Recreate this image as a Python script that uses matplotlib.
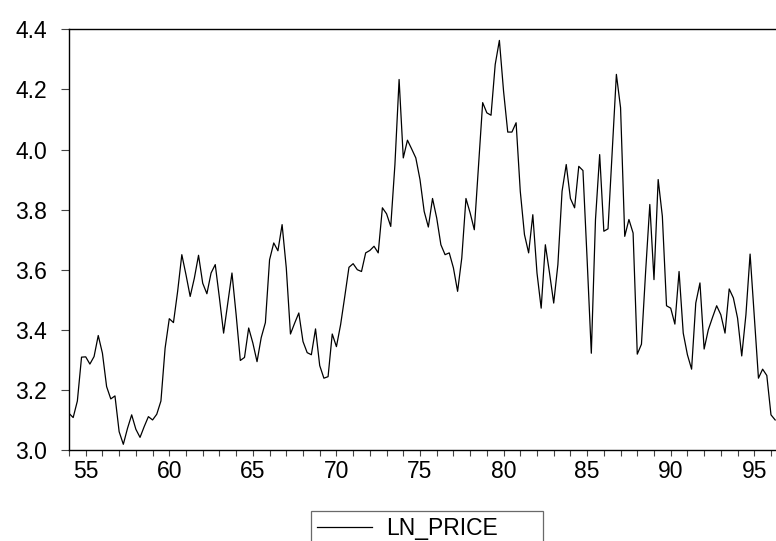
import numpy as np
import matplotlib
matplotlib.use("Agg")
import matplotlib.pyplot as plt
from matplotlib.ticker import MultipleLocator

plt.rcParams['font.family'] = ['Liberation Sans', 'DejaVu Sans']

# quarterly series, 1954Q1 .. 1996Q2
first_year = 54
ln_price = [
    3.122, 3.108, 3.163, 3.309, 3.310, 3.286, 3.311, 3.381, 3.322, 3.211,
    3.170, 3.180, 3.061, 3.019, 3.072, 3.117, 3.069, 3.042, 3.078, 3.111,
    3.100, 3.119, 3.163, 3.339, 3.437, 3.424, 3.528, 3.650, 3.583, 3.511,
    3.572, 3.648, 3.555, 3.520,
    3.589, 3.617, 3.506, 3.389, 3.489, 3.589, 3.450, 3.298, 3.308, 3.406,
    3.356, 3.294, 3.374, 3.424, 3.633, 3.689, 3.663, 3.750, 3.606, 3.386,
    3.422, 3.456, 3.361, 3.324, 3.317, 3.403, 3.281, 3.239, 3.244, 3.386,
    3.344, 3.417, 3.511, 3.608,
    3.620, 3.600, 3.594, 3.656, 3.664, 3.678, 3.656, 3.806, 3.786, 3.744,
    3.950, 4.233, 3.972, 4.031, 4.002, 3.972, 3.900, 3.794, 3.742, 3.837,
    3.772, 3.683, 3.650, 3.656, 3.606, 3.528, 3.639, 3.837, 3.789, 3.733,
    3.944, 4.156, 4.122, 4.114,
    4.283, 4.363, 4.194, 4.058, 4.058, 4.089, 3.861, 3.717, 3.656, 3.783,
    3.589, 3.472, 3.683, 3.589, 3.489, 3.617, 3.861, 3.950, 3.837, 3.806,
    3.944, 3.930, 3.633, 3.322, 3.767, 3.983, 3.728, 3.736, 3.994, 4.250,
    4.139, 3.711, 3.767, 3.722,
    3.319, 3.352, 3.594, 3.817, 3.567, 3.900, 3.778, 3.480, 3.472, 3.419,
    3.594, 3.389, 3.317, 3.269, 3.489, 3.556, 3.336, 3.400, 3.441, 3.480,
    3.450, 3.389, 3.536, 3.506, 3.439, 3.313, 3.450, 3.652, 3.444, 3.239,
    3.269, 3.248, 3.117, 3.100,
]
x_ticks = [55, 60, 65, 70, 75, 80, 85, 90, 95]
y_ticks = [3.0, 3.2, 3.4, 3.6, 3.8, 4.0, 4.2, 4.4]

t = first_year + np.arange(len(ln_price)) / 4.0

fig = plt.figure(figsize=(7.76, 5.41), dpi=100)
ax = fig.add_axes([69 / 776, 1 - 450 / 541, 1 - 69 / 776, (450 - 29.3) / 541])

ax.plot(t, ln_price, color='black', lw=0.9, label='LN_PRICE')

ax.set_xlim(54, 96.3)
ax.set_ylim(3.0, 4.4)
ax.set_xticks(x_ticks)
ax.xaxis.set_minor_locator(MultipleLocator(1))
ax.set_yticks(y_ticks)
ax.set_yticklabels([f'{v:.1f}' for v in y_ticks])

for s in ['left', 'top', 'bottom']:
    ax.spines[s].set_linewidth(1.0)
    ax.spines[s].set_color('black')
ax.spines['right'].set_visible(False)

ax.tick_params(axis='x', which='both', direction='out', length=4, width=0.8,
               color='#444444', labelsize=16.5, pad=3.5)
ax.tick_params(axis='y', direction='out', length=6, width=0.8,
               color='#444444', labelsize=16.5, pad=10)

leg = ax.legend(loc='upper left', bbox_to_anchor=(311 / 776, 1 - 511 / 541, 232 / 776, 0),
                bbox_transform=fig.transFigure, mode='expand', fontsize=16.5,
                frameon=True, fancybox=False, handlelength=2.4, handletextpad=0.65,
                borderpad=0.25, borderaxespad=0)
leg.get_frame().set_edgecolor('#444444')
leg.get_frame().set_linewidth(0.9)

fig.savefig('out.png', dpi=100)
